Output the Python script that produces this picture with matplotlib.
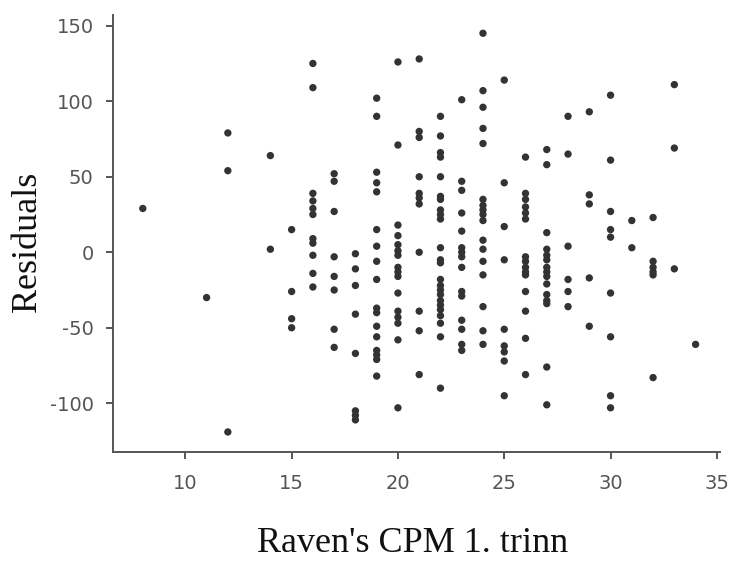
import matplotlib
matplotlib.use("Agg")
import matplotlib.pyplot as plt

plt.rcParams["axes.unicode_minus"] = False

# residuals by Raven's CPM score
x08 = [29]
x11 = [-30]
x12 = [79, 54, -119]
x14 = [64, 2]
x15 = [15, -26, -44, -50]
x16 = [125, 109, 39, 34, 29, 25, 9, 6, -2, -14, -23]
x17 = [52, 47, 27, -3, -16, -25, -51, -63]
x18 = [-1, -11, -22, -41, -67, -105, -108, -111]
x19 = [102, 90, 53, 46, 40, 15, 4, -6, -18, -37, -40, -49, -56, -65, -68, -71, -82]
x20 = [126, 71, 18, 11, 5, 1, -2, -10, -13, -16, -27, -39, -43, -47, -58, -103]
x21 = [128, 80, 76, 50, 39, 36, 32, 0, -39, -52, -81]
x22 = [90, 77, 66, 63, 50, 37, 35, 28, 25, 22, 3, -5, -7, -18, -22, -25, -28,
       -32, -35, -38, -42, -47, -56, -90]
x23 = [101, 47, 41, 26, 14, 3, 0, -3, -10, -26, -29, -45, -51, -61, -65]
x24 = [145, 107, 96, 82, 72, 35, 31, 28, 25, 21, 8, 2, -6, -15, -36, -52, -61]
x25 = [114, 46, 17, -5, -51, -62, -66, -72, -95]
x26 = [63, 39, 35, 30, 26, 22, -3, -6, -10, -13, -15, -26, -39, -57, -81]
x27 = [68, 58, 13, 2, -2, -5, -10, -13, -16, -21, -28, -32, -34, -76, -101]
x28 = [90, 65, 4, -18, -26, -36]
x29 = [93, 38, 32, -17, -49]
x30 = [104, 61, 27, 15, 10, -27, -56, -95, -103]
x31 = [21, 3]
x32 = [23, -6, -10, -13, -15, -83]
x33 = [111, 69, -11]
x34 = [-61]

scores = [8, 11, 12, 14, 15, 16, 17, 18, 19, 20, 21, 22, 23, 24, 25, 26, 27,
          28, 29, 30, 31, 32, 33, 34]
groups = [x08, x11, x12, x14, x15, x16, x17, x18, x19, x20, x21, x22, x23,
          x24, x25, x26, x27, x28, x29, x30, x31, x32, x33, x34]

xs, ys = [], []
for s, g in zip(scores, groups):
    xs += [s] * len(g)
    ys += g

xticks = [10, 15, 20, 25, 30, 35]
yticks = [-100, -50, 0, 50, 100, 150]

fig = plt.figure(figsize=(7.34, 5.61), dpi=100)
ax = fig.add_axes([0.154, 0.195, 0.827, 0.778])

ax.scatter(xs, ys, s=28, color="#333333", edgecolors="none", zorder=3)

ax.set_xlim(6.6, 35.15)
ax.set_ylim(-132, 157)
ax.set_xticks(xticks)
ax.set_yticks(yticks)

for side in ("top", "right"):
    ax.spines[side].set_visible(False)
for side in ("left", "bottom"):
    ax.spines[side].set_color("#555555")
    ax.spines[side].set_linewidth(1.4)

ax.tick_params(axis="both", colors="#555555", length=5, width=1.4,
               labelsize=14, labelcolor="#555555")
ax.tick_params(axis="x", pad=11)
ax.tick_params(axis="y", pad=9)

ax.set_xlabel("Raven's CPM 1. trinn", family="Liberation Serif",
              fontsize=26, color="#111111")
ax.set_ylabel("Residuals", family="Liberation Serif",
              fontsize=26, color="#111111")
ax.xaxis.set_label_coords(0.494, -0.172)
ax.yaxis.set_label_coords(-0.113, 0.48)

fig.savefig("out.png", dpi=100)
